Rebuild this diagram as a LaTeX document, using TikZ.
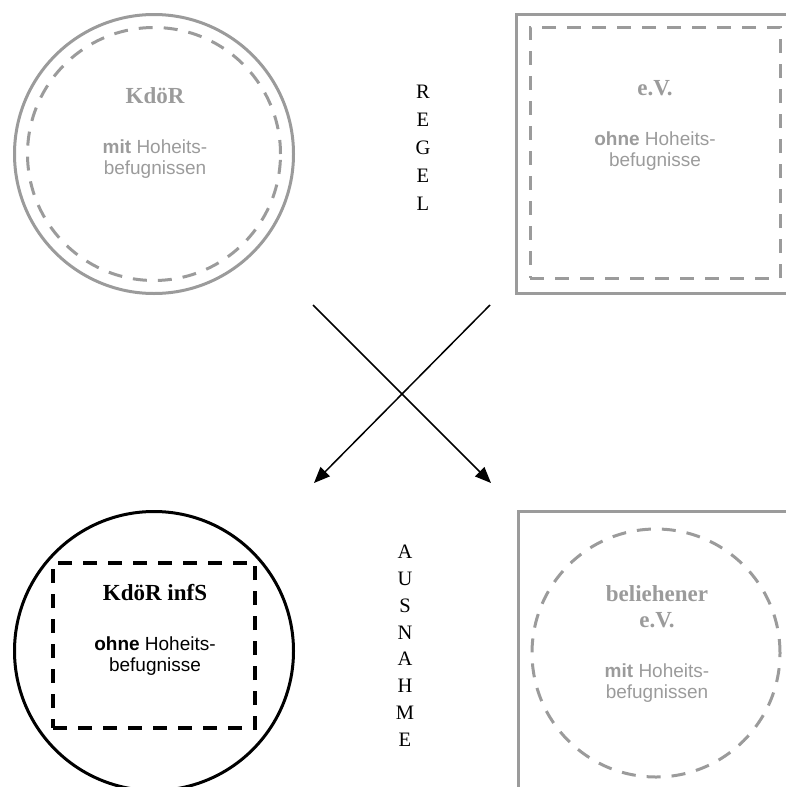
\documentclass[tikz,border=0pt]{standalone}
\usepackage{fontspec}
\setmainfont{Liberation Serif}
\setsansfont{Liberation Sans}
\usetikzlibrary{arrows.meta}
\definecolor{lg}{RGB}{155,155,155}
\tikzset{
  outline/.style={draw, line width=3pt, inner sep=0pt},
  dashline/.style={draw, line width=3pt, dash pattern=on 14pt off 11pt, inner sep=0pt},
  titletext/.style={font=\fontsize{23}{26}\selectfont\bfseries, align=center, anchor=base, inner sep=0pt},
  bodytext/.style={font=\sffamily\fontsize{19}{20.5}\selectfont, align=center, anchor=base, inner sep=0pt},
  lettertext/.style={font=\fontsize{20.5}{28}\selectfont, align=center, anchor=north, inner sep=0pt},
  lettertextb/.style={font=\fontsize{20.5}{26.8}\selectfont, align=center, anchor=north, inner sep=0pt},
  arr/.style={line width=1.5pt, -{Triangle[length=16pt,width=13pt]}}
}
\begin{document}
\begin{tikzpicture}[x=1pt,y=-1pt]
\useasboundingbox (0,0) rectangle (786,787);
\clip (0,0) rectangle (786,787);
% top left
\node[outline, lg, circle, minimum size=279pt] (tlo) at (154,154) {};
\node[dashline, lg, circle, minimum size=253pt] (tli) at (154,154) {};
\node[titletext, text=lg] (tlt) at (155,103) {KdöR};
\node[bodytext, text=lg] (tlb) at (155,174) {\textbf{mit} Hoheits-\\befugnissen};
% top right
\node[outline, lg, rectangle, minimum size=279pt] (tro) at (656,154) {};
\node[dashline, lg, rectangle, minimum width=250pt, minimum height=251pt] (tri) at (655,152.5) {};
\node[titletext, text=lg] (trt) at (655,95) {e.V.};
\node[bodytext, text=lg] (trb) at (655,166) {\textbf{ohne} Hoheits-\\befugnisse};
% bottom left
\node[outline, black, circle, minimum size=279pt] (blo) at (154,651) {};
\node[dashline, black, line width=3.5pt, rectangle, minimum width=202pt, minimum height=165pt] (bli) at (154,645.5) {};
\node[titletext] (blt) at (155,600) {KdöR infS};
\node[bodytext] (blb) at (155,671) {\textbf{ohne} Hoheits-\\befugnisse};
% bottom right
\node[outline, lg, rectangle, minimum size=279pt] (bro) at (658,651) {};
\node[dashline, lg, circle, minimum size=248pt] (bri) at (656,653) {};
\node[titletext, text=lg] (brt) at (657,627) {beliehener\\e.V.};
\node[bodytext, text=lg] (brb) at (657,698) {\textbf{mit} Hoheits-\\befugnissen};
% middle letters
\node[lettertext] (regel) at (423,85) {R\\E\\G\\E\\L};
\node[lettertextb] (ausnahme) at (405,545) {A\\U\\S\\N\\A\\H\\M\\E};
% arrows
\coordinate (a1) at (313,305);
\coordinate (a2) at (491,483);
\coordinate (b1) at (490,305);
\coordinate (b2) at (314,483);
\draw[arr] (a1) -- (a2);
\draw[arr] (b1) -- (b2);
\end{tikzpicture}
\end{document}
